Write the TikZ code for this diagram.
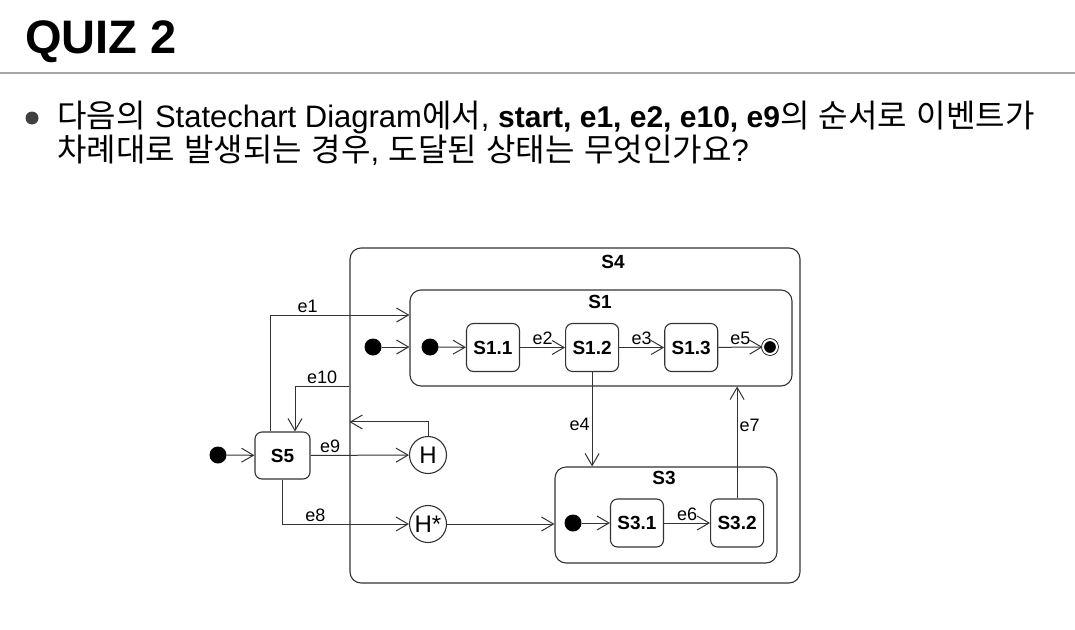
\documentclass[tikz,border=0pt]{standalone}
\usepackage{fontspec}
\setmainfont{Liberation Sans}
\newfontfamily\kr{Noto Sans CJK KR}
\usepackage{tikz}
\usetikzlibrary{calc, arrows.meta, positioning}

% 한글 사이 간격, 글꼴 크기
\newcommand{\ksp}{\hspace{9.5pt}}
\newcommand{\krtext}[1]{{\kr\fontsize{32}{32}\selectfont #1}}
\newcommand{\boldtext}[1]{{\fontsize{30}{30}\selectfont\bfseries #1}}

\tikzset{
    state/.style={draw=black!80, line width=1.1pt, rounded corners=7pt, inner sep=0pt,
        minimum width=53pt, minimum height=48pt, font=\fontsize{19}{19}\selectfont\bfseries},
    superstate/.style={draw=black!80, line width=1.1pt, rounded corners=11pt, inner sep=0pt},
    init/.style={circle, fill=black, inner sep=0pt, minimum size=17pt},
    final/.style={circle, draw, fill=black, inner sep=0pt, minimum size=14pt,
        line width=0.8pt, double, double distance=2pt},
    hist/.style={circle, draw=black!80, line width=1.1pt, inner sep=0pt, minimum size=37pt,
        font=\fontsize{24}{24}\selectfont},
    ev/.style={font=\fontsize{18}{18}\selectfont, inner sep=2pt},
    sname/.style={font=\fontsize{19}{19}\selectfont\bfseries, inner sep=0pt},
    trans/.style={->, draw=black!80, line width=1pt},
}

\begin{document}
\begin{tikzpicture}[x=1pt, y=-1pt, >={Straight Barb[length=12pt, width=14pt]}]
    \useasboundingbox (0,0) rectangle (1075,629);

    % 제목과 구분선
    \node[anchor=base west, inner sep=0pt, font=\fontsize{47}{47}\selectfont\bfseries] (title) at (25,53) {QUIZ 2};
    \draw[gray!70, line width=2.5pt] (0,73) -- (1075,73);

    % 문제
    \node[circle, fill=black!75, inner sep=0pt, minimum size=13pt] (bullet) at (32,118) {};
    \node[anchor=base west, inner sep=0pt, font=\fontsize{31}{31}\selectfont] (line1) at (57,127)
        {\krtext{다음의}\ksp Statechart Diagram\krtext{에서}, \boldtext{start, e1, e2, e10, e9}\krtext{의}\ksp\krtext{순서로}\ksp\krtext{이벤트가}};
    \node[anchor=base west, inner sep=0pt, font=\fontsize{31}{31}\selectfont] (line2) at (57,161)
        {\krtext{차례대로}\ksp\krtext{발생되는}\ksp\krtext{경우},\ksp\krtext{도달된}\ksp\krtext{상태는}\ksp\krtext{무엇인가요}?};

    % 복합 상태 S4, S1, S3
    \node[superstate, minimum width=450pt, minimum height=335pt] (s4) at (575,415.5) {};
    \node[sname] (s4name) at (613,262) {S4};
    \node[superstate, minimum width=382pt, minimum height=96pt] (s1) at (601,338) {};
    \node[sname] (s1name) at (600,302) {S1};
    \node[superstate, minimum width=222pt, minimum height=96pt] (s3) at (666,515) {};
    \node[sname] (s3name) at (664,478) {S3};

    % S1 내부
    \node[init] (i1) at (373,347) {};
    \node[init] (i2) at (430,347) {};
    \node[state] (s11) at (493,347.5) {S1.1};
    \node[state, right=45pt of s11] (s12) {S1.2};
    \node[state, right=45pt of s12] (s13) {S1.3};
    \node[final] (fin) at (770,347) {};

    % S3 내부
    \node[init] (i3) at (573,523) {};
    \node[state] (s31) at (637,523) {S3.1};
    \node[state, right=46pt of s31] (s32) {S3.2};

    % S5 와 히스토리
    \node[init] (i5) at (218,455) {};
    \node[state, minimum width=55pt, minimum height=47pt] (s5) at (282.5,455.5) {S5};
    \node[hist] (h) at (428,455) {H};
    \node[hist] (hs) at (428,524) {H*};

    % 전이
    \draw[trans] (i1) -- (i1 -| s1.west);
    \draw[trans] (i2) -- (s11);
    \draw[trans] (s11) -- node[ev, above] {e2} (s12);
    \draw[trans] (s12) -- node[ev, above] {e3} (s13);
    \draw[trans] (s13) -- node[ev, above] {e5} (fin);
    \draw[trans] (i3) -- (s31);
    \draw[trans] (s31) -- node[ev, above] {e6} (s32);
    \draw[trans] (s12) -- node[ev, left, pos=0.55] {e4} (s12 |- s3.north);
    \draw[trans] (s32) -- node[ev, right, pos=0.65] {e7} (s32 |- s1.south);
    \draw[trans] (i5) -- (s5);
    \draw[trans] (s5) -- node[ev, above, pos=0.2] {e9} (h);
    \draw[trans] (h) |- ([yshift=14pt]h.north -| s4.west);
    \draw[trans] (hs) -- (hs -| s3.west);
    \draw[trans] (s5) |- node[ev, above, pos=0.63] {e8} (hs);
    \draw[trans] ([xshift=-12.5pt]s5.north) |- node[ev, above, pos=0.635] {e1} (s1.west |- 0,315);
    \draw[trans] (s4.west |- 0,386) -| node[ev, above, pos=0.25] {e10} ([xshift=12.5pt]s5.north);
\end{tikzpicture}
\end{document}
